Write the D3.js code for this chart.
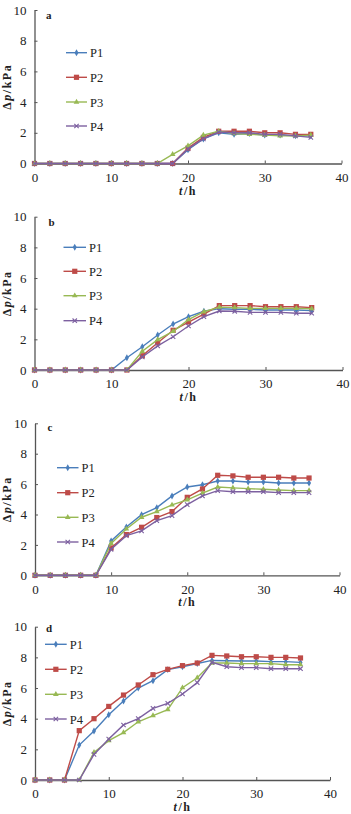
<!DOCTYPE html>
<html>
<head>
<meta charset="utf-8">
<script src="https://cdn.jsdelivr.net/npm/d3@7/dist/d3.min.js"></script>
<style>
  body { margin: 0; background: #fff; }
  svg { display: block; }
  text { font-family: "Liberation Serif", "DejaVu Serif", serif; fill: #222; }
</style>
</head>
<body>
<div id="chart"></div>
<script>
// time points (h)
const hours = [0, 2, 4, 6, 8, 10, 12, 14, 16, 18, 20, 22, 24, 26, 28, 30, 32, 34, 36];
const seriesNames = ['P1', 'P2', 'P3', 'P4'];
const panelLabels = ['a', 'b', 'c', 'd'];
const xTicks = [0, 10, 20, 30, 40];
const yTicks = [0, 2, 4, 6, 8, 10];

// Δp (kPa)
const aP1 = [0,0,0,0,0,0,0,0,0,0,0.9,1.6,2.0,1.9,1.95,1.85,1.85,1.8,1.8];
const aP2 = [0,0,0,0,0,0,0,0,0,0,1.0,1.7,2.1,2.1,2.1,2.0,2.0,1.9,1.9];
const aP3 = [0,0,0,0,0,0,0,0,0,0.6,1.15,1.85,2.1,1.95,1.9,1.85,1.8,1.8,1.85];
const aP4 = [0,0,0,0,0,0,0,0,0,0,0.95,1.6,2.05,2.0,2.0,1.9,1.9,1.8,1.7];

const bP1 = [0,0,0,0,0,0,0.8,1.52,2.28,3.0,3.48,3.83,4.0,3.96,3.96,3.91,3.91,3.91,3.87];
const bP2 = [0,0,0,0,0,0,0,0.93,1.78,2.59,3.13,3.65,4.2,4.2,4.2,4.13,4.13,4.13,4.07];
const bP3 = [0,0,0,0,0,0,0,1.22,1.98,2.52,3.28,3.8,4.1,4.07,4.02,4.02,4.02,4.02,4.0];
const bP4 = [0,0,0,0,0,0,0,0.85,1.57,2.17,2.87,3.48,3.85,3.83,3.76,3.76,3.76,3.7,3.7];

const cP1 = [0,0,0,0,0,2.26,3.18,3.99,4.45,5.22,5.81,5.96,6.2,6.2,6.14,6.14,6.07,6.07,6.07];
const cP2 = [0,0,0,0,0,1.8,2.68,3.16,3.8,4.19,5.13,5.68,6.58,6.54,6.45,6.45,6.45,6.4,6.4];
const cP3 = [0,0,0,0,0,2.1,3.05,3.82,4.19,4.63,4.96,5.4,5.81,5.75,5.7,5.66,5.61,5.57,5.57];
const cP4 = [0,0,0,0,0,1.71,2.61,2.92,3.6,3.93,4.65,5.22,5.57,5.5,5.5,5.5,5.44,5.44,5.44];

const dP1 = [0,0,0,2.28,3.2,4.26,5.15,6.0,6.48,7.2,7.39,7.6,7.8,7.78,7.76,7.76,7.72,7.72,7.67];
const dP2 = [0,0,0,3.22,4.0,4.8,5.54,6.2,6.87,7.22,7.46,7.63,8.13,8.09,8.04,8.04,8.0,8.0,7.96];
const dP3 = [0,0,0,0,1.8,2.57,3.09,3.8,4.2,4.59,6.02,6.67,7.63,7.63,7.59,7.59,7.59,7.52,7.52];
const dP4 = [0,0,0,0,1.67,2.67,3.59,4.0,4.67,5.0,5.61,6.35,7.67,7.39,7.33,7.33,7.26,7.26,7.26];

const panelData = [
    [aP1, aP2, aP3, aP4],
    [bP1, bP2, bP3, bP4],
    [cP1, cP2, cP3, cP4],
    [dP1, dP2, dP3, dP4]
];

const colors = ['#4a7ebb', '#be4b48', '#98b954', '#7d60a0'];

// panel frames in page pixels
const frames = [
    { left: 34.5, right: 341.5, top: 10, bottom: 163.5, legX: 66, legX2: 87, legY: [52.7, 77.3, 102, 126], labX: 46, labY: 19 },
    { left: 34.5, right: 342.5, top: 216.7, bottom: 370, legX: 63.5, legX2: 86, legY: [247.3, 271.3, 295.7, 320.7], labX: 48.5, labY: 226 },
    { left: 35, right: 339.5, top: 423.3, bottom: 575.3, legX: 57, legX2: 78.5, legY: [467.7, 492.7, 517.3, 542], labX: 47.5, labY: 431 },
    { left: 35, right: 330, top: 626.7, bottom: 780, legX: 45, legX2: 66.7, legY: [644.3, 669.3, 694.3, 719], labX: 46, labY: 632 }
];

const width = 351;
const height = 814;

const svg = d3.select('#chart').append('svg')
    .attr('width', width)
    .attr('height', height);

function drawMarker(g, type, x, y, color) {
    if (type === 0) {
        g.append('path')
            .attr('d', d3.symbol(d3.symbolDiamond, 14)())
            .attr('transform', `translate(${x},${y})`)
            .attr('fill', color);
    } else if (type === 1) {
        g.append('rect')
            .attr('x', x - 2.6).attr('y', y - 2.6)
            .attr('width', 5.2).attr('height', 5.2)
            .attr('fill', color);
    } else if (type === 2) {
        g.append('path')
            .attr('d', d3.symbol(d3.symbolTriangle, 14)())
            .attr('transform', `translate(${x},${y})`)
            .attr('fill', color);
    } else {
        g.append('path')
            .attr('d', `M${x - 2.2},${y - 2.2}L${x + 2.2},${y + 2.2}M${x - 2.2},${y + 2.2}L${x + 2.2},${y - 2.2}`)
            .attr('stroke', color)
            .attr('stroke-width', 1.1)
            .attr('fill', 'none');
    }
}

panelData.forEach((series, pi) => {
    const f = frames[pi];
    const x = d3.scaleLinear().domain([0, 40]).range([f.left, f.right]);
    const y = d3.scaleLinear().domain([0, 10]).range([f.bottom, f.top]);
    const g = svg.append('g');

    // axes, ticks pointing inward
    const xAxis = g.append('g')
        .attr('transform', `translate(0,${f.bottom})`)
        .call(d3.axisBottom(x).tickValues(xTicks).tickSizeInner(-3).tickSizeOuter(0).tickPadding(9));
    const yAxis = g.append('g')
        .attr('transform', `translate(${f.left},0)`)
        .call(d3.axisLeft(y).tickValues(yTicks).tickSizeInner(-3).tickSizeOuter(0).tickPadding(8));
    [xAxis, yAxis].forEach(ax => {
        ax.select('.domain').attr('stroke', '#555').attr('stroke-width', 1.3);
        ax.selectAll('.tick line').attr('stroke', '#555').attr('stroke-width', 1);
        ax.selectAll('.tick text')
            .attr('font-family', '"Liberation Serif", serif')
            .attr('font-size', 13)
            .attr('fill', '#222');
    });

    // axis titles
    const xt = g.append('text')
        .attr('x', (x(0) + x(40)) / 2)
        .attr('y', f.bottom + 31)
        .attr('text-anchor', 'middle')
        .attr('font-size', 12)
        .attr('letter-spacing', 1.5)
        .attr('font-weight', 'bold');
    xt.append('tspan').attr('font-style', 'italic').text('t');
    xt.append('tspan').text('/h');

    const yt = g.append('text')
        .attr('transform', `translate(11,${(f.top + f.bottom) / 2}) rotate(-90)`)
        .attr('text-anchor', 'middle')
        .attr('font-size', 12)
        .attr('letter-spacing', 1.5)
        .attr('font-weight', 'bold');
    yt.append('tspan').text('Δ');
    yt.append('tspan').attr('font-style', 'italic').text('p');
    yt.append('tspan').text('/kPa');

    // panel letter
    g.append('text')
        .attr('x', f.labX)
        .attr('y', f.labY)
        .attr('font-size', 11)
        .attr('font-weight', 'bold')
        .text(panelLabels[pi]);

    // series
    const line = d3.line()
        .x((d, i) => x(hours[i]))
        .y(d => y(d));

    series.forEach((vals, si) => {
        g.append('path')
            .datum(vals)
            .attr('d', line)
            .attr('fill', 'none')
            .attr('stroke', colors[si])
            .attr('stroke-width', 1.4);
        vals.forEach((v, i) => drawMarker(g, si, x(hours[i]), y(v), colors[si]));
    });

    // legend
    seriesNames.forEach((name, si) => {
        const ly = f.legY[si];
        g.append('line')
            .attr('x1', f.legX).attr('x2', f.legX2)
            .attr('y1', ly).attr('y2', ly)
            .attr('stroke', colors[si])
            .attr('stroke-width', 1.4);
        drawMarker(g, si, (f.legX + f.legX2) / 2, ly, colors[si]);
        g.append('text')
            .attr('x', f.legX2 + 3)
            .attr('y', ly + 4.5)
            .attr('font-size', 12.5)
            .text(name);
    });
});
</script>
</body>
</html>
